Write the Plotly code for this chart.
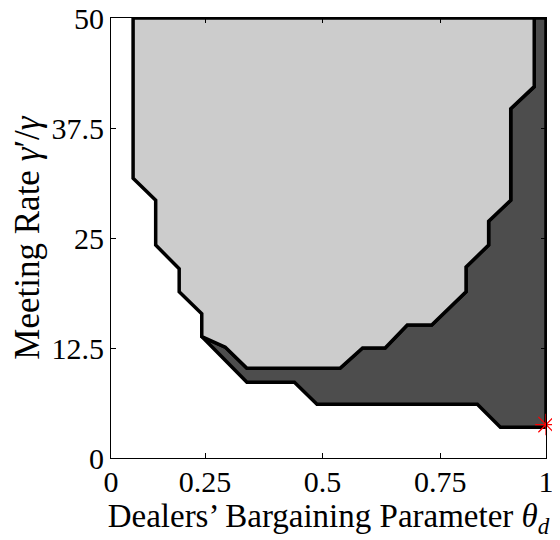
import plotly.graph_objects as go

# Light grey region boundary (closed polygon), x = theta_d, y = gamma'/gamma
light_x = [0.097, 0.097, 0.145, 0.145, 0.195, 0.195, 0.243, 0.243, 0.293, 0.339,
           0.537, 0.585, 0.633, 0.680, 0.732, 0.805, 0.805, 0.853, 0.853, 0.900,
           0.900, 0.950, 0.950]
light_y = [50.0, 31.8, 29.3, 24.2, 21.5, 18.9, 16.4, 13.8, 12.6, 10.2,
           10.2, 12.5, 12.5, 15.1, 15.1, 18.9, 21.7, 24.2, 26.9, 29.3,
           39.7, 42.2, 50.0]

# Dark grey region: lower boundary (starts where it leaves the light region)
dark_low_x = [0.243, 0.339, 0.440, 0.488, 0.829, 0.878, 0.975, 0.975]
dark_low_y = [13.8, 8.6, 8.6, 6.1, 6.1, 3.5, 3.5, 50.0]

# Marked point
star_x = [0.975]
star_y = [3.8]

# Axis ticks
x_tickvals = [0.05, 0.25, 0.5, 0.75, 0.975]
x_ticktext = ["0", "0.25", "0.5", "0.75", "1"]
y_tickvals = [0, 12.5, 25, 37.5, 50]
y_ticktext = ["0", "12.5", "25", "37.5", "50"]

# dark polygon = lower boundary + right side of light region going back down
dark_x = dark_low_x + light_x[:6:-1]
dark_y = dark_low_y + light_y[:6:-1]

fig = go.Figure()
fig.add_trace(go.Scatter(x=dark_x, y=dark_y, mode="lines", fill="toself",
                         fillcolor="#4d4d4d", line=dict(color="black", width=3.5),
                         hoverinfo="skip", showlegend=False))
fig.add_trace(go.Scatter(x=light_x + [light_x[0]], y=light_y + [light_y[0]],
                         mode="lines", fill="toself",
                         fillcolor="#cccccc", line=dict(color="black", width=3.5),
                         hoverinfo="skip", showlegend=False))
fig.add_trace(go.Scatter(x=star_x, y=star_y, mode="markers", cliponaxis=False,
                         marker=dict(symbol="asterisk-open", size=18, color="red",
                                     line=dict(color="red", width=1.2)),
                         showlegend=False))

font_family = "Liberation Serif"
fig.update_layout(
    width=552, height=532,
    margin=dict(l=103, r=14, t=10, b=82, autoexpand=False),
    paper_bgcolor="white", plot_bgcolor="white",
    font=dict(family=font_family, size=30, color="black"),
    xaxis=dict(range=[0.05, 0.975], tickvals=x_tickvals, ticktext=x_ticktext,
               automargin=False, ticklabelstandoff=-3, ticklabeloverflow="allow",
               showgrid=False, zeroline=False, showline=True, linecolor="black",
               linewidth=1, mirror="ticks", ticks="inside", ticklen=5,
               tickcolor="black", tickfont=dict(size=30),
               title=dict(text="Dealers’ Bargaining Parameter <i>θ</i><sub><i>d</i></sub>",
                          font=dict(size=33), standoff=6)),
    yaxis=dict(range=[0, 50], tickvals=y_tickvals, ticktext=y_ticktext,
               automargin=False, ticklabeloverflow="allow",
               showgrid=False, zeroline=False, showline=True, linecolor="black",
               linewidth=1, mirror="ticks", ticks="inside", ticklen=5,
               tickcolor="black", tickfont=dict(size=30),
               title=dict(text="Meeting Rate <i>γ</i>′/<i>γ</i>",
                          font=dict(size=35), standoff=6)),
)
fig.write_html("out.html")
